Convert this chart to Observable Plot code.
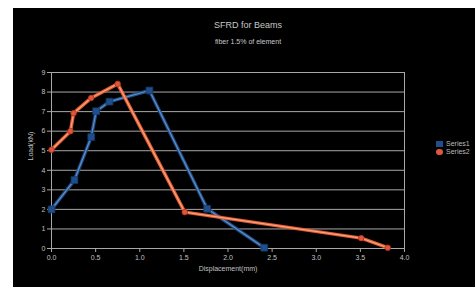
<!DOCTYPE html>
<html>
<head>
<meta charset="utf-8">
<script src="https://cdn.jsdelivr.net/npm/d3@7"></script>
<script src="https://cdn.jsdelivr.net/npm/@observablehq/plot@0.6"></script>
<style>
  html, body { margin: 0; padding: 0; background: #fff; }
  body { padding: 8px 0 0 13px; width: 475px; height: 287px; box-sizing: border-box; overflow: hidden; }
  #wrap { position: relative; width: 462px; height: 279px; background: #000; font-family: "Liberation Sans", Arial, sans-serif; }
  #wrap svg { position: absolute; left: 0; top: 0; }
  .t { position: absolute; color: #c8c8c8; white-space: nowrap; transform: translateX(-50%); }
  #title { left: 235px; top: 12px; font-size: 9px; }
  #sub { left: 235px; top: 30px; font-size: 7px; }
  #legend { position: absolute; left: 423px; top: 132px; font-size: 7px; color: #bbb; line-height: 8px; white-space: nowrap; }
  #legend .sw { display: inline-block; width: 7px; height: 6px; margin-right: 3px; vertical-align: middle; }
</style>
</head>
<body>
<div id="wrap">
  <div id="title" class="t">SFRD for Beams</div>
  <div id="sub" class="t">fiber 1.5% of element</div>
  <div id="legend"></div>
</div>
<script>
const seriesNames = ["Series1", "Series2"];
const blueX = [0, 0.26, 0.45, 0.506, 0.657, 1.11, 1.764, 2.41];
const blueY = [2.0, 3.5, 5.7, 7.02, 7.51, 8.08, 2.03, 0.04];
const orangeX = [0, 0.215, 0.25, 0.45, 0.75, 1.51, 3.51, 3.81];
const orangeY = [5.05, 6.0, 6.92, 7.7, 8.42, 1.86, 0.53, 0.04];
const xTicks = [0, 0.5, 1, 1.5, 2, 2.5, 3, 3.5, 4];
const yTicks = [0, 1, 2, 3, 4, 5, 6, 7, 8, 9];
const xLabel = "Displacement(mm)";
const yLabel = "Load(kN)";

const blue = blueX.map((x, i) => ({x, y: blueY[i]}));
const orange = orangeX.map((x, i) => ({x, y: orangeY[i]}));

const chart = Plot.plot({
  width: 462,
  height: 279,
  marginLeft: 38,
  marginRight: 71,
  marginTop: 64,
  marginBottom: 39,
  style: { background: "transparent", color: "#c8c8c8", fontFamily: "Liberation Sans, Arial, sans-serif", fontSize: "7px" },
  x: { domain: [0, 4], ticks: xTicks, tickFormat: d => String(d), tickSize: 4, label: null },
  y: { domain: [0, 9], ticks: yTicks, tickFormat: d => String(d), tickSize: 4, label: null },
  marks: [
    Plot.gridY(yTicks, { stroke: "#a8a8a8", strokeOpacity: 1, strokeWidth: 1 }),
    Plot.ruleX([0, 4], { stroke: "#a8a8a8", strokeWidth: 1 }),
    Plot.axisX({ ticks: xTicks, tickSize: 4, stroke: "#a8a8a8", fill: "#c0c0c0", tickPadding: 3, label: null }),
    Plot.axisY({ ticks: yTicks, tickSize: 4, stroke: "#a8a8a8", fill: "#c0c0c0", tickPadding: 2, label: null }),
    Plot.text([xLabel], { frameAnchor: "bottom", dy: 22, fill: "#c0c0c0", fontSize: 7 }),
    Plot.text([yLabel], { frameAnchor: "left", rotate: -90, dx: -21, fill: "#c0c0c0", fontSize: 7 }),
    Plot.line(blue, { x: "x", y: "y", stroke: "#1f4b85", strokeWidth: 3.5 }),
    Plot.line(blue, { x: "x", y: "y", stroke: "#5f8fc8", strokeWidth: 1.2 }),
    Plot.line(orange, { x: "x", y: "y", stroke: "#e35a2c", strokeWidth: 3.5 }),
    Plot.line(orange, { x: "x", y: "y", stroke: "#f7a282", strokeWidth: 1.2 }),
    Plot.dot(blue, { x: "x", y: "y", symbol: "square", r: 3.8, fill: "#1f4e8c", stroke: "#16396a", strokeWidth: 0.8 }),
    Plot.dot(orange, { x: "x", y: "y", symbol: "circle", r: 2.8, fill: "#e0563a", stroke: "#a8301c", strokeWidth: 0.8 })
  ]
});
document.getElementById("wrap").appendChild(chart);

const legend = document.getElementById("legend");
const legendColors = ["#1f4e8c", "#e0563a"];
seriesNames.forEach((n, i) => {
  const row = document.createElement("div");
  row.innerHTML = `<span class="sw" style="background:${legendColors[i]};border-radius:${i ? 3 : 0}px"></span>${n}`;
  legend.appendChild(row);
});
</script>
</body>
</html>
